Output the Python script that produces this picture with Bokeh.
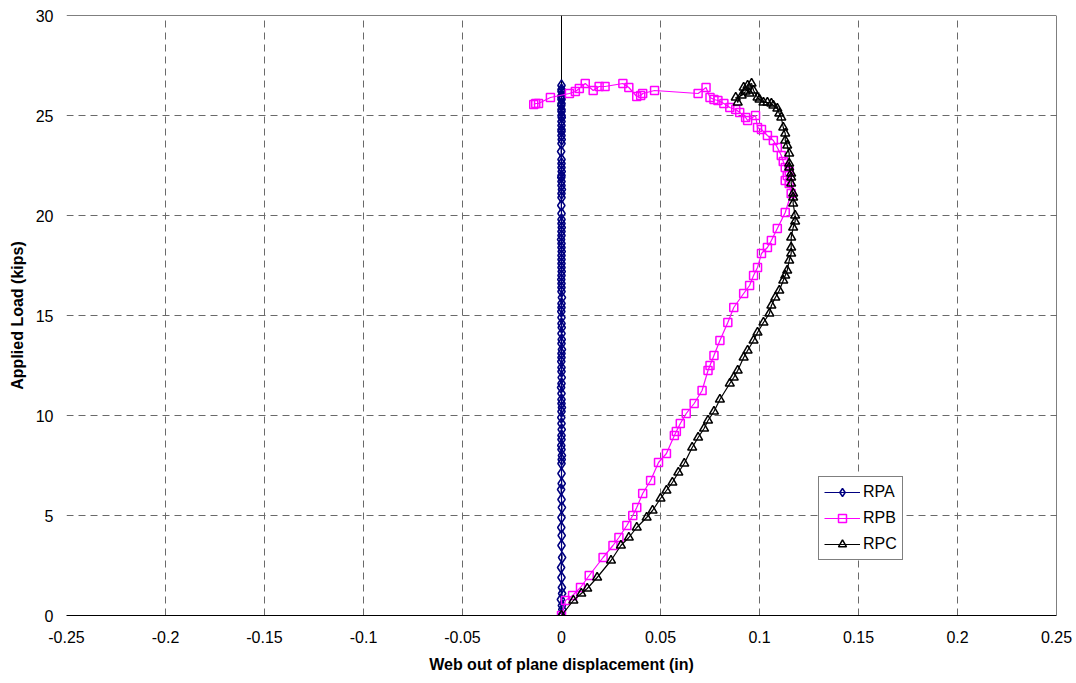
from bokeh.plotting import figure
from bokeh.models import FixedTicker, Span, Legend, LegendItem, Range1d
from bokeh.embed import file_html
from bokeh.resources import INLINE

# Web out-of-plane displacement (in) vs applied load (kips) for three gauges

rpa_y = [0.0, 0.3, 0.5, 0.8, 1.1, 1.4, 1.9, 2.4, 2.9, 3.5,
         4.0, 4.4, 4.9, 5.4, 5.8, 6.3, 6.6, 7.1, 7.6, 7.8,
         8.0, 8.3, 8.5, 8.8, 9.0, 9.3, 9.6, 9.9, 10.2, 10.4,
         10.6, 10.8, 11.1, 11.4, 11.6, 11.9, 12.2, 12.4, 12.7, 12.9,
         13.1, 13.3, 13.6, 13.8, 14.1, 14.4, 14.6, 14.9, 15.2, 15.4,
         15.6, 15.9, 16.2, 16.4, 16.6, 16.8, 17.0, 17.2, 17.4, 17.6,
         17.8, 18.0, 18.2, 18.4, 18.6, 18.8, 19.0, 19.2, 19.4, 19.6,
         19.8, 20.1, 20.5, 20.9, 21.1, 21.3, 21.5, 21.7, 21.9, 22.0,
         22.2, 22.4, 22.6, 22.8, 23.2, 23.6, 23.8, 24.0, 24.2, 24.3,
         24.5, 24.7, 24.9, 25.0, 25.2, 25.3, 25.5, 25.6, 25.8, 25.9,
         26.0, 26.2, 26.3, 26.5]
rpa_x = [0.0, 0.0004, 0.0002, -0.0003, 0.0003, 0.0002, 0.0, -0.0002, 0.0003, 0.0,
         0.0001, -0.0001, 0.0, 0.0002, 0.0, -0.0002, 0.0001, 0.0, 0.0, 0.0001,
         0.0002, 0.0, -0.0001, 0.0, 0.0, 0.0001, 0.0, -0.0001, 0.0, 0.0002,
         0.0, 0.0, 0.0, -0.0002, 0.0, 0.0001, 0.0, 0.0, -0.0001, 0.0,
         0.0, 0.0002, 0.0, 0.0001, 0.0, 0.0001, 0.0, 0.0, -0.0001, 0.0,
         0.0, 0.0002, 0.0, 0.0, 0.0, -0.0001, 0.0, 0.0001, 0.0, 0.0,
         0.0, 0.0, 0.0001, 0.0, 0.0, -0.0002, 0.0, 0.0, 0.0001, 0.0,
         0.0, 0.0, -0.0001, 0.0, 0.0, 0.0002, 0.0, 0.0, -0.0001, 0.0,
         0.0001, 0.0, 0.0, 0.0, -0.0002, 0.0, 0.0001, 0.0, 0.0, 0.0,
         0.0, 0.0, 0.0001, 0.0, 0.0, 0.0, -0.0001, 0.0, 0.0, 0.0,
         0.0, 0.0, 0.0, 0.0]

rpb_x = [0.0, 0.002, 0.0056, 0.0096, 0.014, 0.021, 0.026, 0.029, 0.033, 0.036,
         0.038, 0.041, 0.045, 0.049, 0.053, 0.057, 0.058, 0.060, 0.063, 0.067,
         0.071, 0.074, 0.075, 0.077, 0.080, 0.084, 0.087, 0.092, 0.095, 0.097,
         0.099, 0.101, 0.104, 0.106, 0.109, 0.113, 0.116, 0.115, 0.113, 0.114,
         0.115, 0.113, 0.112, 0.111, 0.109, 0.107, 0.104, 0.101, 0.099, 0.098,
         0.094, 0.093, 0.090, 0.088, 0.085, 0.082, 0.079, 0.077, 0.075, 0.073,
         0.069, 0.047, 0.041, 0.040, 0.038, 0.034, 0.031, 0.022, 0.019, 0.016,
         0.012, 0.009, 0.007, 0.004, -0.0056, -0.0116, -0.013, -0.014]
rpb_y = [0.0, 0.75, 1.0, 1.4, 2.0, 2.9, 3.5, 3.9, 4.5, 5.0,
         5.4, 6.1, 6.75, 7.65, 8.1, 9.0, 9.2, 9.6, 10.1, 10.6,
         11.25, 12.25, 12.5, 13.0, 13.75, 14.65, 15.4, 16.1, 16.5, 17.0,
         17.4, 18.1, 18.4, 18.75, 19.35, 20.15, 21.1, 21.6, 21.75, 22.0,
         22.2, 22.4, 22.7, 23.0, 23.4, 23.75, 24.0, 24.3, 24.4, 25.0,
         24.75, 24.9, 25.15, 25.3, 25.4, 25.6, 25.75, 25.8, 25.9, 26.4,
         26.1, 26.25, 26.1, 26.0, 25.95, 26.4, 26.6, 26.45, 26.45, 26.25,
         26.6, 26.35, 26.2, 26.1, 25.9, 25.6, 25.6, 25.55]

rpc_x = [0.0, 0.006, 0.010, 0.013, 0.018, 0.025, 0.030, 0.034, 0.038, 0.043,
         0.046, 0.050, 0.053, 0.056, 0.059, 0.062, 0.066, 0.069, 0.072, 0.074,
         0.077, 0.080, 0.085, 0.087, 0.089, 0.092, 0.094, 0.097, 0.099, 0.102,
         0.105, 0.106, 0.108, 0.110, 0.112, 0.113, 0.114, 0.115, 0.116, 0.116,
         0.116, 0.117, 0.118, 0.118, 0.117, 0.117, 0.117, 0.116, 0.116, 0.116,
         0.115, 0.115, 0.115, 0.114, 0.113, 0.113, 0.112, 0.111, 0.110, 0.109,
         0.107, 0.106, 0.104, 0.102, 0.100, 0.099, 0.097, 0.096, 0.094, 0.095,
         0.092, 0.089, 0.088, 0.091, 0.093]
rpc_y = [0.0, 0.75, 1.1, 1.35, 1.9, 2.75, 3.5, 3.9, 4.4, 4.9,
         5.25, 5.85, 6.25, 6.65, 7.15, 7.6, 8.4, 8.9, 9.35, 9.75,
         10.2, 10.8, 11.6, 11.9, 12.25, 12.9, 13.25, 13.75, 14.15, 14.65,
         15.1, 15.5, 15.9, 16.25, 16.75, 17.0, 17.25, 17.75, 18.1, 18.4,
         18.9, 19.4, 19.7, 20.0, 20.6, 20.9, 21.1, 21.6, 21.9, 22.1,
         22.4, 22.6, 23.1, 23.5, 23.75, 24.1, 24.4, 24.9, 25.1, 25.35,
         25.5, 25.6, 25.65, 25.65, 25.8, 25.9, 26.25, 26.6, 26.5, 26.1,
         26.4, 25.65, 25.9, 26.0, 26.2]

x_ticks = [-0.25, -0.2, -0.15, -0.1, -0.05, 0.0, 0.05, 0.1, 0.15, 0.2, 0.25]
x_tick_labels = ["-0.25", "-0.2", "-0.15", "-0.1", "-0.05", "0",
                 "0.05", "0.1", "0.15", "0.2", "0.25"]
y_ticks = [0, 5, 10, 15, 20, 25, 30]

FONT = "Liberation Sans"

p = figure(width=1076, height=683, output_backend="svg", toolbar_location=None,
           x_range=Range1d(-0.25, 0.25), y_range=Range1d(0, 30),
           min_border_left=66, min_border_right=20, min_border_top=15,
           min_border_bottom=68)
p.outline_line_color = None
p.background_fill_color = "white"
p.border_fill_color = "white"

# grid
for g in (p.xgrid, p.ygrid):
    g.grid_line_color = "#6a6a6a"
    g.grid_line_dash = "7 5"
    g.grid_line_width = 1

# axes
p.xaxis.ticker = FixedTicker(ticks=x_ticks)
p.xaxis.major_label_overrides = dict(zip(x_ticks, x_tick_labels))
p.yaxis.ticker = FixedTicker(ticks=y_ticks)
for ax in (p.xaxis, p.yaxis):
    ax.major_tick_out = 0
    ax.major_tick_in = 0
    ax.minor_tick_out = 0
    ax.minor_tick_in = 0
    ax.major_label_text_font = FONT
    ax.major_label_text_font_size = "16px"
    ax.major_label_text_color = "black"
    ax.axis_label_text_font = FONT
    ax.axis_label_text_font_size = "16px"
    ax.axis_label_text_font_style = "bold"
    ax.axis_label_text_color = "black"
p.xaxis.axis_line_color = "black"
p.yaxis.axis_line_color = None
p.xaxis.major_label_standoff = 15
p.xaxis.axis_label_standoff = 10
p.yaxis.major_label_standoff = 13
p.yaxis.axis_label_standoff = 7
p.xaxis.axis_label = "Web out of plane displacement (in)"
p.yaxis.axis_label = "Applied Load (kips)"

# frame top/right edges and the vertical zero line
p.add_layout(Span(location=30, dimension="width", line_color="black", line_width=1))
p.add_layout(Span(location=0.25, dimension="height", line_color="black", line_width=1))
p.add_layout(Span(location=0, dimension="height", line_color="black", line_width=1,
                  level="underlay"))

navy = "#000080"
magenta = "#FF00FF"

la = p.line(rpa_x, rpa_y, line_color=navy, line_width=1.2)
sa = p.scatter(rpa_x, rpa_y, marker="diamond", size=11, line_color=navy,
               fill_alpha=0, line_width=1.5)
lb = p.line(rpb_x, rpb_y, line_color=magenta, line_width=1.2)
sb = p.scatter(rpb_x, rpb_y, marker="square", size=8, line_color=magenta,
               fill_alpha=0, line_width=1.5)
lc = p.line(rpc_x, rpc_y, line_color="black", line_width=1.2)
sc = p.scatter(rpc_x, rpc_y, marker="triangle", size=9, line_color="black",
               fill_alpha=0, line_width=1.5)

legend = Legend(items=[LegendItem(label="RPA", renderers=[la, sa]),
                       LegendItem(label="RPB", renderers=[lb, sb]),
                       LegendItem(label="RPC", renderers=[lc, sc])],
                location=(752, 55))
legend.label_text_font = FONT
legend.label_text_font_size = "16px"
legend.label_text_color = "black"
legend.glyph_width = 36
legend.glyph_height = 20
legend.label_height = 20
legend.label_standoff = 3
legend.spacing = 6
legend.padding = 5
legend.margin = 0
legend.border_line_color = "black"
legend.border_line_width = 1
legend.background_fill_color = "white"
legend.background_fill_alpha = 1
p.add_layout(legend, "center")

open("out.html", "w").write(file_html(p, INLINE))
